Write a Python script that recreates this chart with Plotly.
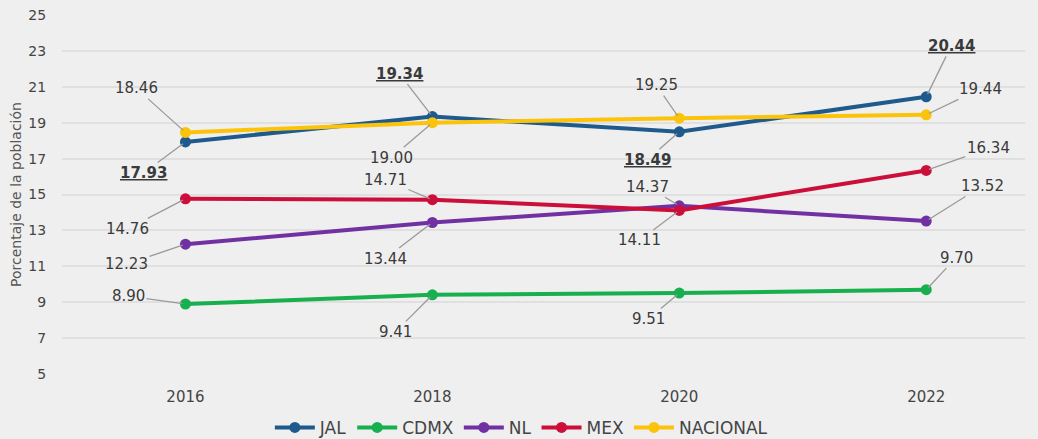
import plotly.graph_objects as go

years = [2016, 2018, 2020, 2022]
series_names = ["JAL", "CDMX", "NL", "MEX", "NACIONAL"]
jal = [17.93, 19.34, 18.49, 20.44]
cdmx = [8.90, 9.41, 9.51, 9.70]
nl = [12.23, 13.44, 14.37, 13.52]
mex = [14.76, 14.71, 14.11, 16.34]
nacional = [18.46, 19.00, 19.25, 19.44]
y_ticks = [5, 7, 9, 11, 13, 15, 17, 19, 21, 23, 25]

values = [jal, cdmx, nl, mex, nacional]
colors = ["#1f5a8c", "#18b04e", "#7131a3", "#cc0f3a", "#fcc30b"]

# label offsets in pixels (ax, ay) per series per year
offsets = {
    "JAL": [(-42, 31), (-33, -43), (-32, 28), (25, -51)],
    "CDMX": [(-57, -8), (-37, 37), (-31, 26), (30, -32)],
    "NL": [(-59, 20), (-47, 36), (-32, -19), (56, -35)],
    "MEX": [(-58, 30), (-47, -20), (-40, 30), (62, -22)],
    "NACIONAL": [(-49, -44), (-41, 35), (-23, -33), (54, -26)],
}

font_family = "DejaVu Sans, sans-serif"

fig = go.Figure()
for name, vals, col in zip(series_names, values, colors):
    fig.add_trace(go.Scatter(
        x=years, y=vals, name=name, mode="lines+markers",
        line=dict(color=col, width=4),
        marker=dict(color=col, size=11),
    ))

annotations = []
for name, vals in zip(series_names, values):
    for i, (yr, v) in enumerate(zip(years, vals)):
        txt = f"{v:.2f}"
        if name == "JAL":
            txt = f"<b><u>{txt}</u></b>"
        ax, ay = offsets[name][i]
        annotations.append(dict(
            x=yr, y=v, text=txt, showarrow=True, arrowhead=0,
            arrowwidth=1.3, arrowcolor="#9a9a9a", ax=ax, ay=ay,
            standoff=3, font=dict(size=15, color="#3a3a3a", family=font_family),
        ))

fig.update_layout(
    width=1038, height=439,
    margin=dict(l=62, r=13, t=15, b=65, autoexpand=False),
    paper_bgcolor="#efefef", plot_bgcolor="#efefef",
    font=dict(family=font_family, color="#444444"),
    annotations=annotations,
    showlegend=True,
    legend=dict(orientation="h", x=0.477, xanchor="center", y=-0.15, yanchor="middle",
                font=dict(size=17, color="#444444"), bgcolor="rgba(0,0,0,0)",
                itemwidth=40),
)
fig.update_xaxes(
    range=[2015.0, 2022.8], tickvals=years, ticktext=[str(y) for y in years],
    showgrid=False, zeroline=False, showline=False,
    ticks="outside", ticklen=9, tickcolor="rgba(0,0,0,0)",
    tickfont=dict(size=15, color="#444444"),
)
fig.update_yaxes(
    range=[5, 25], tickvals=y_ticks, showgrid=True, gridcolor="#e0e0e0", gridwidth=1.5,
    zeroline=False, ticks="outside", ticklen=12, tickcolor="rgba(0,0,0,0)",
    tickfont=dict(size=14, color="#444444"),
    title=dict(text="Porcentaje de la población", font=dict(size=14, color="#555555"), standoff=3),
)

fig.write_html("out.html", config={"displayModeBar": False},
               post_script="document.body.style.margin='0';document.body.style.overflow='hidden';")
